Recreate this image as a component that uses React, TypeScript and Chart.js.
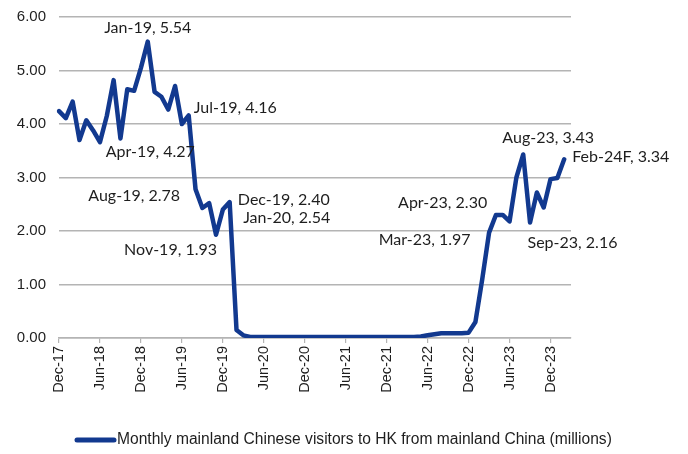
import React, { useEffect, useRef } from 'react';
import { Chart, registerables } from 'chart.js';

Chart.register(...registerables);

const categories: string[] = [
  'Dec-17',
  'Jan-18', 'Feb-18', 'Mar-18', 'Apr-18', 'May-18', 'Jun-18', 'Jul-18', 'Aug-18', 'Sep-18', 'Oct-18', 'Nov-18', 'Dec-18',
  'Jan-19', 'Feb-19', 'Mar-19', 'Apr-19', 'May-19', 'Jun-19', 'Jul-19', 'Aug-19', 'Sep-19', 'Oct-19', 'Nov-19', 'Dec-19',
  'Jan-20', 'Feb-20', 'Mar-20', 'Apr-20', 'May-20', 'Jun-20', 'Jul-20', 'Aug-20', 'Sep-20', 'Oct-20', 'Nov-20', 'Dec-20',
  'Jan-21', 'Feb-21', 'Mar-21', 'Apr-21', 'May-21', 'Jun-21', 'Jul-21', 'Aug-21', 'Sep-21', 'Oct-21', 'Nov-21', 'Dec-21',
  'Jan-22', 'Feb-22', 'Mar-22', 'Apr-22', 'May-22', 'Jun-22', 'Jul-22', 'Aug-22', 'Sep-22', 'Oct-22', 'Nov-22', 'Dec-22',
  'Jan-23', 'Feb-23', 'Mar-23', 'Apr-23', 'May-23', 'Jun-23', 'Jul-23', 'Aug-23', 'Sep-23', 'Oct-23', 'Nov-23', 'Dec-23',
  'Jan-24', 'Feb-24F', 'Mar-24',
];

const visitors: (number | null)[] = [
  4.24,
  4.11, 4.42, 3.70, 4.07, 3.88, 3.66, 4.15, 4.82, 3.73, 4.65, 4.62, 5.05,
  5.54, 4.60, 4.51, 4.27, 4.71, 4.00, 4.16, 2.78, 2.43, 2.52, 1.93, 2.40,
  2.54, 0.15, 0.05, 0.02, 0.02, 0.02, 0.02, 0.02, 0.02, 0.02, 0.02, 0.02,
  0.02, 0.02, 0.02, 0.02, 0.02, 0.02, 0.02, 0.02, 0.02, 0.02, 0.02, 0.02,
  0.02, 0.02, 0.02, 0.02, 0.03, 0.05, 0.07, 0.09, 0.09, 0.09, 0.09, 0.10,
  0.30, 1.10, 1.97, 2.30, 2.30, 2.18, 3.00, 3.43, 2.16, 2.72, 2.44, 2.97,
  2.99, 3.34, null,
];

const seriesName = 'Monthly mainland Chinese visitors to HK from mainland China (millions)';
const yTicks = [0, 1, 2, 3, 4, 5, 6];
const labelledMonths = ['Jan-19', 'Apr-19', 'Jul-19', 'Aug-19', 'Nov-19', 'Dec-19', 'Jan-20', 'Mar-23', 'Apr-23', 'Aug-23', 'Sep-23', 'Feb-24F'];

// label placement relative to each labelled point (style only)
const labelPlacement: Record<string, { dx: number; dy: number; align: CanvasTextAlign }> = {
  'Jan-19': { dx: 0, dy: -14, align: 'center' },
  'Apr-19': { dx: -18, dy: 42, align: 'center' },
  'Jul-19': { dx: 5, dy: -8, align: 'left' },
  'Aug-19': { dx: -15.5, dy: 7, align: 'right' },
  'Nov-19': { dx: 1, dy: 15, align: 'right' },
  'Dec-19': { dx: 15, dy: -10, align: 'left' },
  'Jan-20': { dx: 13.5, dy: 16, align: 'left' },
  'Mar-23': { dx: -18.5, dy: 7, align: 'right' },
  'Apr-23': { dx: -8.7, dy: -12, align: 'right' },
  'Aug-23': { dx: 25, dy: -17, align: 'center' },
  'Sep-23': { dx: -2.5, dy: 20, align: 'left' },
  'Feb-24F': { dx: 8, dy: -2, align: 'left' },
};

const LINE_COLOR = '#12398f';
const GRID_COLOR = '#b4b4b4';
const TEXT_COLOR = '#1e1e1e';

const dataLabelPlugin = {
  id: 'dataLabels',
  afterDatasetsDraw(chart: any) {
    const ctx = chart.ctx;
    const meta = chart.getDatasetMeta(0);
    ctx.save();
    ctx.font = '16px Lato, "Open Sans", sans-serif';
    ctx.fillStyle = TEXT_COLOR;
    ctx.textBaseline = 'middle';
    labelledMonths.forEach((m) => {
      const i = categories.indexOf(m);
      const pt = meta.data[i];
      const v = visitors[i];
      if (!pt || v == null) return;
      const p = labelPlacement[m];
      ctx.textAlign = p.align;
      ctx.fillText(`${m}, ${v.toFixed(2)}`, pt.x + p.dx, pt.y + p.dy);
    });
    ctx.restore();
  },
};

const legendPlugin = {
  id: 'customLegend',
  afterDraw(chart: any) {
    const ctx = chart.ctx;
    const y = 440;
    ctx.save();
    ctx.strokeStyle = LINE_COLOR;
    ctx.lineWidth = 5;
    ctx.lineCap = 'round';
    ctx.beginPath();
    ctx.moveTo(77, y);
    ctx.lineTo(114, y);
    ctx.stroke();
    ctx.font = '15.6px "Liberation Sans", Arial, sans-serif';
    ctx.fillStyle = TEXT_COLOR;
    ctx.textAlign = 'left';
    ctx.textBaseline = 'middle';
    ctx.fillText(chart.data.datasets[0].label, 117, y);
    ctx.restore();
  },
};

export default function App() {
  const canvasRef = useRef<HTMLCanvasElement | null>(null);

  useEffect(() => {
    if (!canvasRef.current) return;
    const chart = new Chart(canvasRef.current, {
      type: 'line',
      data: {
        labels: categories,
        datasets: [
          {
            label: seriesName,
            data: visitors,
            borderColor: LINE_COLOR,
            backgroundColor: LINE_COLOR,
            borderWidth: 4.5,
            borderJoinStyle: 'round',
            borderCapStyle: 'round',
            pointRadius: 0,
            tension: 0,
            spanGaps: false,
          },
        ],
      },
      options: {
        animation: false,
        responsive: true,
        maintainAspectRatio: false,
        layout: { padding: { left: 0, right: 117, top: 17, bottom: 46 } },
        plugins: {
          legend: { display: false },
          tooltip: { enabled: false },
        },
        scales: {
          x: {
            type: 'category',
            offset: false,
            border: { display: true, color: GRID_COLOR, width: 1.5 },
            grid: {
              drawOnChartArea: false,
              drawTicks: true,
              tickLength: 5,
              color: (c: any) => (c.index % 6 === 0 && c.index < 73 ? GRID_COLOR : 'transparent'),
              lineWidth: 1.2,
            },
            ticks: {
              autoSkip: false,
              minRotation: 90,
              maxRotation: 90,
              padding: 3,
              color: TEXT_COLOR,
              font: { family: '"Liberation Sans", Arial, sans-serif', size: 14.5 },
              callback: (_v: any, i: number) => (i % 6 === 0 && i < 73 ? categories[i] : ''),
            },
            afterFit: (s: any) => {
              s.height = 70;
            },
          },
          y: {
            min: 0,
            max: 6,
            border: { display: false },
            grid: { color: GRID_COLOR, lineWidth: 1.5, drawTicks: false },
            afterBuildTicks: (s: any) => {
              s.ticks = yTicks.map((v) => ({ value: v }));
            },
            ticks: {
              padding: 13,
              color: TEXT_COLOR,
              font: { family: '"Liberation Sans", Arial, sans-serif', size: 15 },
              callback: (v: any) => Number(v).toFixed(2),
            },
            afterFit: (s: any) => {
              s.width = 59;
              s.paddingTop = 0;
              s.paddingBottom = 0;
            },
          },
        },
      },
      plugins: [dataLabelPlugin, legendPlugin],
    });
    return () => chart.destroy();
  }, []);

  return (
    <div style={{ position: 'absolute', left: 0, top: 0, width: 688, height: 454, background: '#fff' }}>
      <canvas ref={canvasRef} />
    </div>
  );
}
